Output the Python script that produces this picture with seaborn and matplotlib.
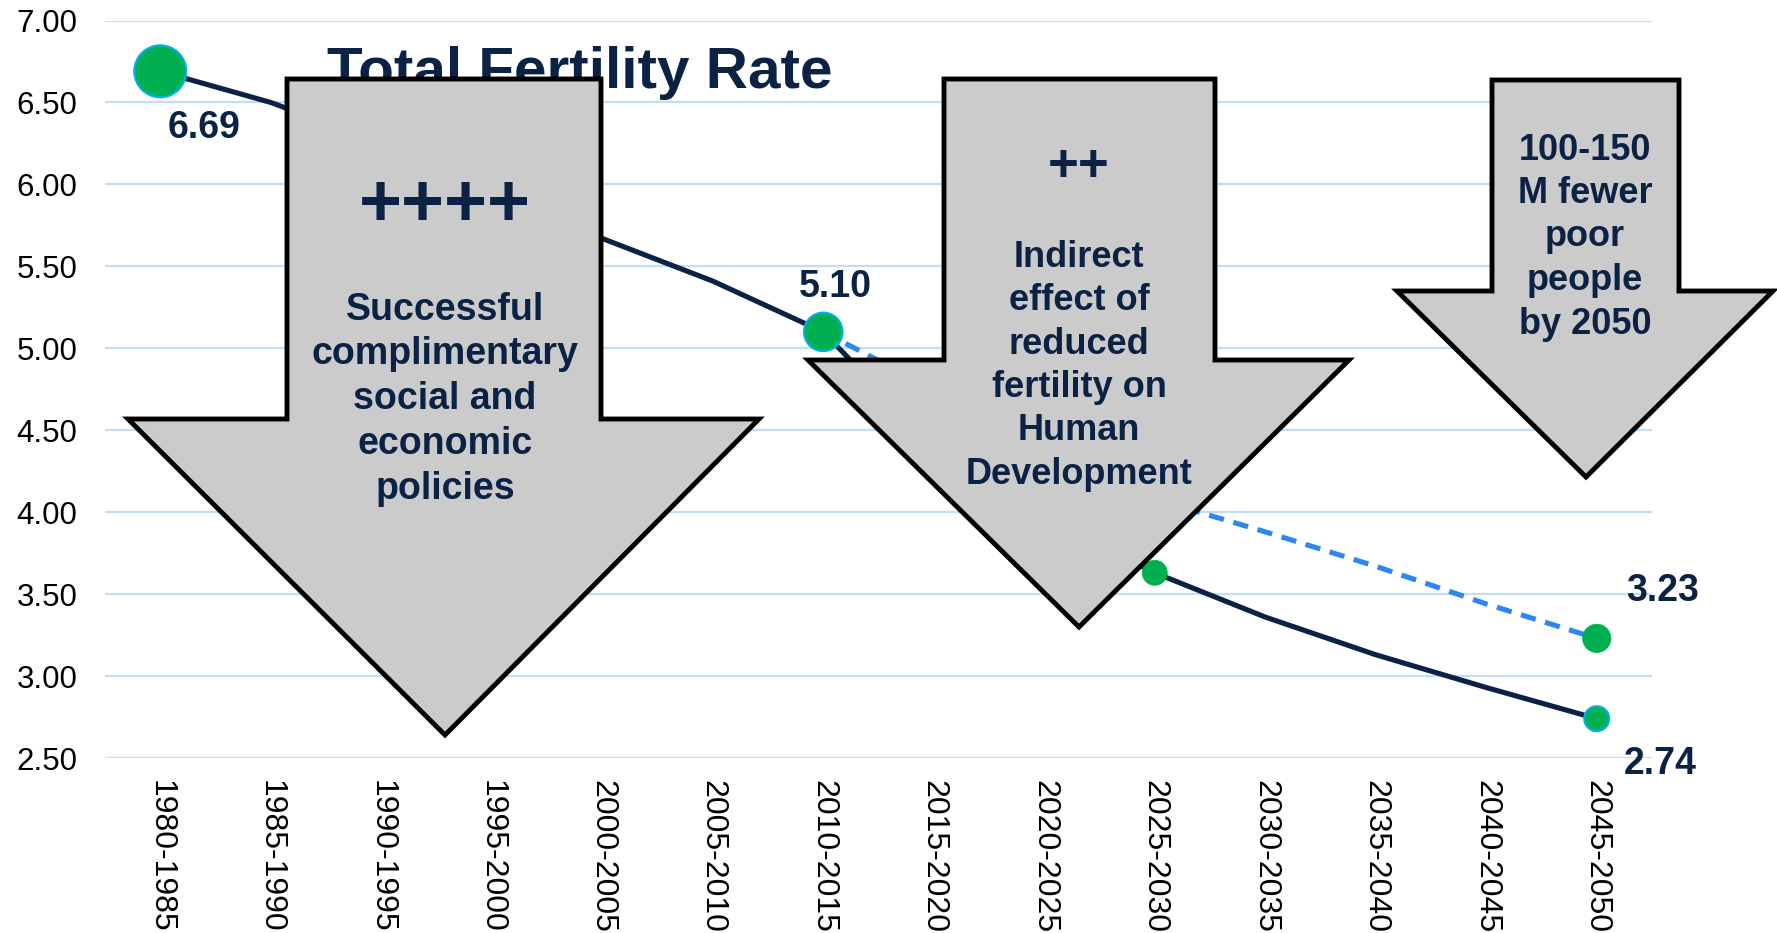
import matplotlib
matplotlib.use("Agg")
import matplotlib.pyplot as plt
from matplotlib.patches import Polygon
import pandas as pd
import seaborn as sns

# Data (hidden stretches under the arrows are estimates)
periods = ["1980-1985", "1985-1990", "1990-1995", "1995-2000", "2000-2005",
           "2005-2010", "2010-2015", "2015-2020", "2020-2025", "2025-2030",
           "2030-2035", "2035-2040", "2040-2045", "2045-2050"]
tfr_main = [6.69, 6.50, 6.25, 5.95, 5.67, 5.41, 5.10, 4.40, 3.98, 3.63, 3.36, 3.13, 2.93, 2.74]
alt_periods = ["2010-2015", "2015-2020", "2020-2025", "2025-2030",
               "2030-2035", "2035-2040", "2040-2045", "2045-2050"]
tfr_alt = [5.10, 4.75, 4.40, 4.08, 3.88, 3.67, 3.44, 3.23]

# highlighted points
edged_periods = ["1980-1985", "2010-2015", "2045-2050"]
edged_values = [6.69, 5.10, 2.74]
plain_periods = ["2025-2030", "2045-2050"]
plain_values = [3.63, 3.23]

y_ticks = [2.5, 3.0, 3.5, 4.0, 4.5, 5.0, 5.5, 6.0, 6.5, 7.0]

NAVY = "#0b2244"
GREEN = "#00b050"
CYAN = "#00b0f0"
DASH_BLUE = "#2f87ee"
GRID = "#c3ddf5"
ARROW_FILL = "#cbcbcb"

W, H = 1777, 933

sns.set_theme(style="white")
plt.rcParams["font.family"] = ["Liberation Sans", "DejaVu Sans"]

fig = plt.figure(figsize=(W / 100, H / 100), dpi=100)
ax = fig.add_axes([105 / W, 1 - 758 / H, (1652 - 105) / W, (758 - 20.5) / H])

main_df = pd.DataFrame({"period": periods, "tfr": tfr_main})
alt_df = pd.DataFrame({"period": alt_periods, "tfr": tfr_alt})

sns.lineplot(data=main_df, x="period", y="tfr", color=NAVY, linewidth=3.7, sort=False, ax=ax, zorder=3)
sns.lineplot(data=alt_df, x="period", y="tfr", color=DASH_BLUE, linewidth=3.7, sort=False, ax=ax, zorder=3)
ax.lines[-1].set_dashes((3.0, 1.9))

# markers: blue-edged ones and plain green ones
edged = pd.DataFrame({"period": edged_periods, "tfr": edged_values})
plain = pd.DataFrame({"period": plain_periods, "tfr": plain_values})
sns.scatterplot(data=edged, x="period", y="tfr", s=[1400, 770, 324], color=GREEN,
                edgecolor=CYAN, linewidth=1.5, ax=ax, zorder=4)
sns.scatterplot(data=plain, x="period", y="tfr", s=[324, 416], color=GREEN,
                edgecolor=GREEN, linewidth=0.5, ax=ax, zorder=4)

ax.set_xlim(-0.5, len(periods) - 0.5)
ax.set_ylim(2.5, 7.0)
ax.set_yticks(y_ticks)
ax.set_yticklabels([f"{v:.2f}" for v in y_ticks])
ax.set_xticks(range(len(periods)))
ax.set_xticklabels(periods, rotation=-90, ha="center", va="top")
ax.tick_params(axis="y", length=0, pad=20, labelsize=22.5, labelcolor="black")
ax.tick_params(axis="x", length=0, pad=16, labelsize=23, labelcolor="black")
ax.set_xlabel("")
ax.set_ylabel("")
ax.yaxis.grid(True, color=GRID, linewidth=1.6)
ax.xaxis.grid(False)
ax.set_axisbelow(True)
for sp in ax.spines.values():
    sp.set_visible(False)

# value labels (offsets in points)
label_specs = [
    (periods.index("1980-1985"), 6.69, (31.5, -40.5)),
    (periods.index("2010-2015"), 5.10, (8.5, 32.5)),
    (periods.index("2045-2050"), 3.23, (47.5, 34.0)),
    (periods.index("2045-2050"), 2.74, (46.0, -32.5)),
]
for xi, val, off in label_specs:
    ax.annotate(f"{val:.2f}", xy=(xi, val), xytext=off, textcoords="offset points",
                ha="center", va="center", fontsize=27, fontweight="bold", color=NAVY,
                annotation_clip=False, zorder=3)

# title (sits behind the first arrow)
ax.text(580 / W, 1 - 88 / H, "Total Fertility Rate", transform=fig.transFigure,
        ha="center", va="baseline", fontsize=42, fontweight="bold", color=NAVY, zorder=3)


def down_arrow(shaft_l, shaft_r, top, base, head_l, head_r, tip_x, tip_y):
    pts = [(shaft_l, top), (shaft_r, top), (shaft_r, base), (head_r, base),
           (tip_x, tip_y), (head_l, base), (shaft_l, base)]
    pts = [(x / W, 1 - y / H) for x, y in pts]
    poly = Polygon(pts, closed=True, transform=fig.transFigure, facecolor=ARROW_FILL,
                   edgecolor="black", linewidth=3.5, joinstyle="miter", zorder=5, clip_on=False)
    ax.add_patch(poly)


down_arrow(287, 601, 79, 419, 128, 759, 445, 735)
down_arrow(944, 1215, 79, 360, 808, 1349, 1079, 627)
down_arrow(1492, 1679, 80, 291, 1397, 1773, 1586, 477)


def arrow_text(x, y0, step, lines, size):
    for k, line in enumerate(lines):
        ax.text(x / W, 1 - (y0 + k * step) / H, line, transform=fig.transFigure,
                ha="center", va="center", fontsize=size, fontweight="bold", color=NAVY,
                zorder=6, clip_on=False)


arrow_text(445, 207, 0, ["++++"], 53)
arrow_text(445, 309.5, 44.8, ["Successful", "complimentary", "social and", "economic", "policies"], 27)
arrow_text(1079, 167, 0, ["++"], 38)
arrow_text(1079, 257.5, 43.3, ["Indirect", "effect of", "reduced", "fertility on", "Human", "Development"], 26)
arrow_text(1585, 150, 43.5, ["100-150", "M fewer", "poor", "people", "by 2050"], 26)

fig.savefig("out.png", dpi=100)
